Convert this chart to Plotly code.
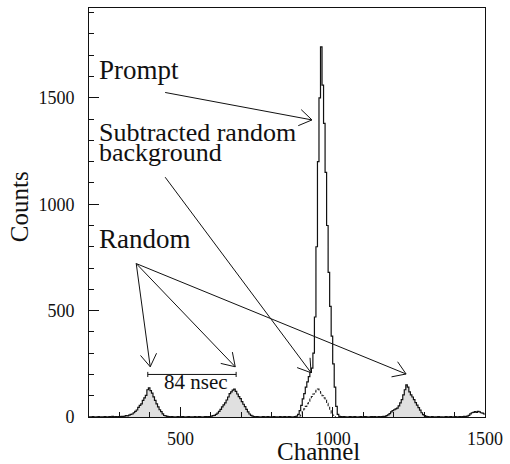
import math
import plotly.graph_objects as go

# ---------------- data ----------------
bin_width = 5
first_channel = 200
# counts per 5-channel bin, channels 200 .. 1495 (one row = 100 channels)
counts = [
    1, 0, 2, 1, 0, 1, 2, 0, 1, 1, 2, 1, 0, 2, 1, 3, 1, 2, 1, 2,                      # 200
    2, 3, 2, 4, 6, 5, 9, 12, 14, 20, 26, 33, 45, 55, 62, 78, 90, 102, 128, 137,       # 300
    124, 112, 95, 78, 62, 48, 34, 25, 15, 7, 5, 3, 2, 1, 2, 1, 0, 1, 2, 1,            # 400
    1, 2, 1, 0, 1, 2, 1, 1, 0, 2, 1, 1, 2, 1, 0, 1, 2, 1, 2, 2,                       # 500
    4, 6, 8, 12, 18, 26, 36, 48, 57, 66, 80, 94, 110, 118, 126, 131, 120, 108, 96, 86,  # 600
    72, 60, 49, 36, 24, 14, 8, 4, 2, 1, 2, 1, 0, 1, 2, 1, 1, 2, 1, 0,                 # 700
    1, 2, 1, 1, 0, 2, 1, 1, 2, 1, 1, 2, 1, 0, 1, 2, 4, 12, 30, 55,                    # 800
    85, 110, 140, 165, 190, 210, 230, 300, 470, 800, 1200, 1500, 1739, 1560, 1380, 1150, 900, 680, 520, 380,  # 900
    250, 140, 50, 12, 3, 2, 1, 2, 1, 0, 1, 2, 1, 1, 2, 1, 0, 1, 2, 1,                 # 1000
    1, 2, 1, 0, 1, 2, 1, 2, 1, 1, 2, 1, 2, 3, 3, 6, 10, 16, 24, 30,                   # 1100
    34, 38, 42, 52, 66, 82, 104, 128, 151, 140, 118, 104, 94, 82, 68, 56, 44, 32, 20, 11,  # 1200
    6, 3, 2, 1, 1, 2, 0, 1, 1, 2, 1, 1, 0, 1, 2, 1, 1, 2, 1, 1,                       # 1300
    2, 1, 1, 2, 1, 2, 3, 2, 4, 8, 15, 20, 22, 25, 22, 26, 24, 20, 18, 14,             # 1400
]

# subtracted random background (dashed), 5-channel bins from channel 890
subtracted_first_channel = 890
subtracted = [5, 15, 26, 38, 50, 62, 74, 84, 96, 108, 118, 126, 131, 124, 112, 100,
              90, 80, 64, 48, 32, 18, 8, 2]

# channel ranges of the shaded random peaks
random_peak_ranges = [(300, 470), (595, 745), (1165, 1310)]

# annotation arrows: (tail, head) in data units
arrow_prompt = ((450, 1525), (932, 1396))
arrow_subtracted = ((450, 1127), (929, 208))
random_tail = (355, 721)
random_heads = [(401, 236), (680, 236), (1241, 202)]
bracket_channels = (393, 683)   # 84 nsec spacing between random peaks
bracket_level = 200

x_range = [200, 1500]
y_range = [0, 1922]

# ---------------- geometry ----------------
W, H = 510, 464
L, R, T, B = 89, 21, 7, 47
PW, PH = W - L - R, H - T - B


def to_px(x, y):
    return (L + (x - x_range[0]) / (x_range[1] - x_range[0]) * PW,
            T + PH - (y - y_range[0]) / (y_range[1] - y_range[0]) * PH)


def to_data(px, py):
    return (x_range[0] + (px - L) / PW * (x_range[1] - x_range[0]),
            y_range[0] + (T + PH - py) / PH * (y_range[1] - y_range[0]))


def paper(px, py):
    return (px - L) / PW, (T + PH - py) / PH


def step_xy(start, values):
    xs = [start + i * bin_width for i in range(len(values))] + [start + len(values) * bin_width]
    ys = list(values) + [values[-1]]
    return xs, ys


fig = go.Figure()

# shaded random peaks
for lo, hi in random_peak_ranges:
    i0 = (lo - first_channel) // bin_width
    i1 = (hi - first_channel) // bin_width
    xs, ys = step_xy(lo, counts[i0:i1])
    fig.add_trace(go.Scatter(x=xs, y=ys, mode="lines", line=dict(width=0, shape="hv"),
                             fill="tozeroy", fillcolor="rgba(0,0,0,0.12)",
                             hoverinfo="skip", showlegend=False))

# dashed subtracted background
xs, ys = step_xy(subtracted_first_channel, subtracted)
fig.add_trace(go.Scatter(x=xs, y=ys, mode="lines",
                         line=dict(color="#222", width=1.1, shape="hv", dash="3px,2px"),
                         showlegend=False))

# main histogram
xs, ys = step_xy(first_channel, counts)
fig.add_trace(go.Scatter(x=xs, y=ys, mode="lines",
                         line=dict(color="#111", width=1.2, shape="hv"),
                         showlegend=False))

shapes = []


def add_arrow(tail, head, barb_len=15, half_angle=33):
    shapes.append(dict(type="line", xref="x", yref="y", x0=tail[0], y0=tail[1],
                       x1=head[0], y1=head[1], line=dict(color="#111", width=1)))
    hx, hy = to_px(*head)
    tx, ty = to_px(*tail)
    dx, dy = tx - hx, ty - hy
    n = math.hypot(dx, dy)
    dx, dy = dx / n, dy / n
    for s in (1, -1):
        a = math.radians(half_angle) * s
        bx = hx + barb_len * (dx * math.cos(a) - dy * math.sin(a))
        by = hy + barb_len * (dx * math.sin(a) + dy * math.cos(a))
        ex, ey = to_data(bx, by)
        shapes.append(dict(type="line", xref="x", yref="y", x0=head[0], y0=head[1],
                           x1=ex, y1=ey, line=dict(color="#111", width=1)))


add_arrow(*arrow_prompt)
add_arrow(*arrow_subtracted)
for h in random_heads:
    add_arrow(random_tail, h)

# 84 nsec bracket
shapes.append(dict(type="line", xref="x", yref="y", x0=bracket_channels[0], y0=bracket_level,
                   x1=bracket_channels[1], y1=bracket_level, line=dict(color="#111", width=1)))
for c in bracket_channels:
    shapes.append(dict(type="line", xref="x", yref="y", x0=c, y0=bracket_level - 12,
                       x1=c, y1=bracket_level + 12, line=dict(color="#111", width=1)))

serif = "Liberation Serif"
annotations = []


def label(text, px, py, size=26, xanchor="left", angle=0):
    x, y = paper(px, py)
    annotations.append(dict(text=text, xref="paper", yref="paper", x=x, y=y,
                            xanchor=xanchor, yanchor="middle", showarrow=False,
                            textangle=angle, borderpad=0,
                            font=dict(family=serif, size=size, color="#111")))


label("Prompt", 98, 69, size=27)
label("Subtracted random", 98, 132, size=26)
label("background", 98, 152, size=26)
label("Random", 98, 239, size=27)
label("84 nsec", 197, 382, size=21, xanchor="center")
label("Channel", 321, 452, size=25, xanchor="center")
label("Counts", 19, 206, size=25, xanchor="center", angle=-90)

axis_common = dict(showline=True, linecolor="#111", linewidth=1, mirror=True,
                   ticks="inside", ticklen=10, tickcolor="#111", showgrid=False,
                   zeroline=False, tickfont=dict(family=serif, size=18, color="#111"))

fig.update_layout(
    width=W, height=H,
    margin=dict(l=L, r=R, t=T, b=B),
    paper_bgcolor="white", plot_bgcolor="white",
    font=dict(family=serif),
    xaxis=dict(range=x_range, tick0=0, dtick=500, ticklabelstandoff=5,
               minor=dict(dtick=100, ticklen=5, ticks="inside", tickcolor="#111"),
               **axis_common),
    yaxis=dict(range=y_range, tick0=0, dtick=500, ticklabelstandoff=10,
               minor=dict(dtick=100, ticklen=5, ticks="inside", tickcolor="#111"),
               **axis_common),
    shapes=shapes,
    annotations=annotations,
)

fig.write_html("out.html")
